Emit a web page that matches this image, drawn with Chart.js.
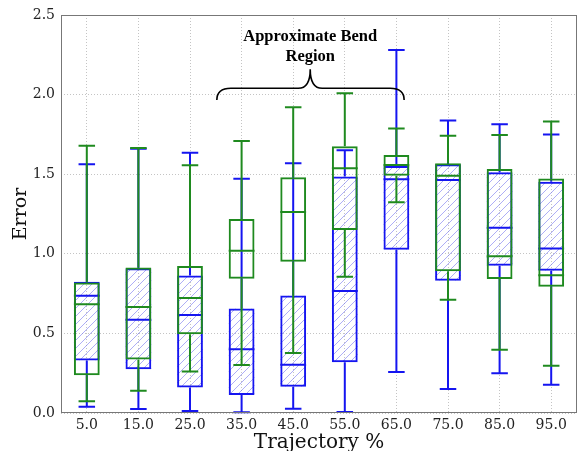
<!DOCTYPE html>
<html>
<head>
<meta charset="utf-8">
<script src="https://cdn.jsdelivr.net/npm/chart.js@4.4.0/dist/chart.umd.min.js"></script>
<style>
  html, body { margin: 0; padding: 0; background: #fff; }
  #wrap { width: 579px; height: 451px; }
</style>
</head>
<body>
<div id="wrap"><canvas id="c"></canvas></div>
<script>
// Trajectory positions and their tick labels
const positions = [5, 15, 25, 35, 45, 55, 65, 75, 85, 95];
const tickLabels = ['5.0', '15.0', '25.0', '35.0', '45.0', '55.0', '65.0', '75.0', '85.0', '95.0'];
const yTicks = [0, 0.5, 1.0, 1.5, 2.0, 2.5];

// Blue (hatched) boxes
const blueLow  = [0.040, 0.025, 0.013, 0.005, 0.027, 0.006, 0.257, 0.151, 0.249, 0.178];
const blueQ1   = [0.330, 0.275, 0.160, 0.113, 0.165, 0.318, 1.025, 0.831, 0.925, 0.893];
const blueMed  = [0.737, 0.586, 0.616, 0.400, 0.303, 0.766, 1.468, 1.464, 1.163, 1.033];
const blueQ3   = [0.824, 0.910, 0.863, 0.657, 0.738, 1.485, 1.551, 1.563, 1.513, 1.452];
const blueHigh = [1.563, 1.660, 1.635, 1.471, 1.569, 1.651, 2.280, 1.837, 1.814, 1.749];

// Green (open) boxes
const greenLow  = [0.074, 0.139, 0.260, 0.301, 0.377, 0.856, 1.324, 0.711, 0.397, 0.297];
const greenQ1   = [0.237, 0.336, 0.494, 0.843, 0.950, 1.149, 1.490, 0.891, 0.841, 0.793];
const greenMed  = [0.683, 0.666, 0.723, 1.019, 1.262, 1.538, 1.558, 1.490, 0.985, 0.866];
const greenQ3   = [0.820, 0.914, 0.924, 1.218, 1.481, 1.676, 1.620, 1.569, 1.533, 1.473];
const greenHigh = [1.679, 1.665, 1.556, 1.709, 1.920, 2.008, 1.787, 1.741, 1.747, 1.831];

const BLUE = '#1515f0';
const GREEN = '#1f8a1f';
const HATCH = 'rgba(120,120,240,0.6)';
const serif = 'DejaVu Serif';

const stats = {
  blue: { low: blueLow, med: blueMed, q1: blueQ1, q3: blueQ3, high: blueHigh, color: BLUE, hatch: true },
  green: { low: greenLow, med: greenMed, q1: greenQ1, q3: greenQ3, high: greenHigh, color: GREEN }
};

const half = 2.5, cap = 1.6;

// box hatching under the border, whiskers/caps/medians over it
const boxes = {
  id: 'boxes',
  beforeDatasetDraw(chart, args) {
    const s = stats[chart.data.datasets[args.index].key];
    if (!s.hatch) return;
    const { ctx, scales: { x, y } } = chart;
    ctx.save();
    ctx.strokeStyle = HATCH;
    ctx.lineWidth = 1;
    positions.forEach((p, i) => {
      const l = x.getPixelForValue(p - half), r = x.getPixelForValue(p + half);
      const t = y.getPixelForValue(s.q3[i]), b = y.getPixelForValue(s.q1[i]);
      ctx.save();
      ctx.beginPath();
      ctx.rect(l, t, r - l, b - t);
      ctx.clip();
      ctx.beginPath();
      for (let k = Math.floor((l + t) / 8) * 8; k < r + b + 8; k += 8) {
        ctx.moveTo(k - t, t);
        ctx.lineTo(k - b, b);
      }
      ctx.stroke();
      ctx.restore();
    });
    ctx.restore();
  },
  afterDatasetDraw(chart, args) {
    const s = stats[chart.data.datasets[args.index].key];
    const { ctx, scales: { x, y } } = chart;
    ctx.save();
    ctx.strokeStyle = s.color;
    ctx.lineWidth = 2;
    positions.forEach((p, i) => {
      const px = x.getPixelForValue(p);
      ctx.beginPath();
      ctx.moveTo(px, y.getPixelForValue(s.q3[i]));
      ctx.lineTo(px, y.getPixelForValue(s.high[i]));
      ctx.moveTo(px, y.getPixelForValue(s.q1[i]));
      ctx.lineTo(px, y.getPixelForValue(s.low[i]));
      [s.high[i], s.low[i]].forEach(v => {
        ctx.moveTo(x.getPixelForValue(p - cap), y.getPixelForValue(v));
        ctx.lineTo(x.getPixelForValue(p + cap), y.getPixelForValue(v));
      });
      ctx.moveTo(x.getPixelForValue(p - half), y.getPixelForValue(s.med[i]));
      ctx.lineTo(x.getPixelForValue(p + half), y.getPixelForValue(s.med[i]));
      ctx.stroke();
    });
    ctx.restore();
  }
};

// frame round the plot plus the bend-region annotation
const extras = {
  id: 'extras',
  afterDraw(chart) {
    const { ctx, chartArea: a, scales: { x, y } } = chart;
    ctx.save();
    ctx.strokeStyle = '#777';
    ctx.lineWidth = 1;
    ctx.strokeRect(a.left + 0.5, a.top + 0.5, a.right - a.left - 1, a.bottom - a.top - 1);

    // brace
    const x0 = x.getPixelForValue(30.2), x1 = x.getPixelForValue(66.5), xm = x.getPixelForValue(48.3);
    const yEnd = y.getPixelForValue(1.966), yBar = y.getPixelForValue(2.04), yTip = y.getPixelForValue(2.16);
    ctx.strokeStyle = '#000';
    ctx.lineWidth = 1.6;
    ctx.beginPath();
    ctx.moveTo(x0, yEnd);
    ctx.quadraticCurveTo(x0, yBar, x0 + 14, yBar);
    ctx.lineTo(xm - 12, yBar);
    ctx.quadraticCurveTo(xm, yBar, xm, yTip);
    ctx.quadraticCurveTo(xm, yBar, xm + 12, yBar);
    ctx.lineTo(x1 - 14, yBar);
    ctx.quadraticCurveTo(x1, yBar, x1, yEnd);
    ctx.stroke();

    ctx.fillStyle = '#000';
    ctx.font = 'bold 16.5px "Liberation Serif"';
    ctx.textAlign = 'center';
    ctx.textBaseline = 'middle';
    ctx.fillText('Approximate Bend', xm, 37);
    ctx.fillText('Region', xm, 57);
    ctx.restore();
  }
};

new Chart(document.getElementById('c'), {
  type: 'bar',
  data: {
    datasets: [
      {
        key: 'blue',
        data: positions.map((p, i) => ({ x: p, y: [blueQ1[i], blueQ3[i]] })),
        backgroundColor: 'rgba(0,0,0,0)',
        borderColor: BLUE,
        borderWidth: 2,
        borderSkipped: false,
        order: 1
      },
      {
        key: 'green',
        data: positions.map((p, i) => ({ x: p, y: [greenQ1[i], greenQ3[i]] })),
        backgroundColor: 'rgba(0,0,0,0)',
        borderColor: GREEN,
        borderWidth: 2,
        borderSkipped: false,
        order: 0
      }
    ]
  },
  options: {
    responsive: true,
    maintainAspectRatio: false,
    animation: false,
    grouped: false,
    barPercentage: 0.5,
    categoryPercentage: 1.0,
    layout: { padding: { top: 15, right: 2, left: 0, bottom: 0 } },
    plugins: { legend: { display: false }, tooltip: { enabled: false } },
    scales: {
      x: {
        type: 'linear',
        min: 0,
        max: 100,
        offset: false,
        afterBuildTicks: s => { s.ticks = positions.map(v => ({ value: v })); },
        afterFit: s => { s.height = 38; },
        ticks: {
          autoSkip: false,
          maxRotation: 0,
          padding: 4,
          color: '#222',
          font: { family: serif, size: 14 },
          callback: (v, i) => tickLabels[i]
        },
        grid: { color: '#c4c4c4', drawTicks: false, offset: false },
        border: { display: false, dash: [1, 2] },
        title: {
          display: true,
          text: 'Trajectory %',
          color: '#111',
          font: { family: serif, size: 20, lineHeight: 1.0 },
          padding: { top: 0, bottom: -2 }
        }
      },
      y: {
        min: 0,
        max: 2.5,
        afterBuildTicks: s => { s.ticks = yTicks.map(v => ({ value: v })); },
        afterFit: s => { s.width = 61; },
        ticks: {
          padding: 6,
          color: '#222',
          font: { family: serif, size: 14 },
          callback: v => v.toFixed(1)
        },
        grid: { color: '#c4c4c4', drawTicks: false },
        border: { display: false, dash: [1, 2] },
        title: {
          display: true,
          text: 'Error',
          color: '#111',
          font: { family: serif, size: 19, lineHeight: 1.0 },
          padding: { top: 12, bottom: 0 }
        }
      }
    }
  },
  plugins: [boxes, extras]
});
</script>
</body>
</html>
